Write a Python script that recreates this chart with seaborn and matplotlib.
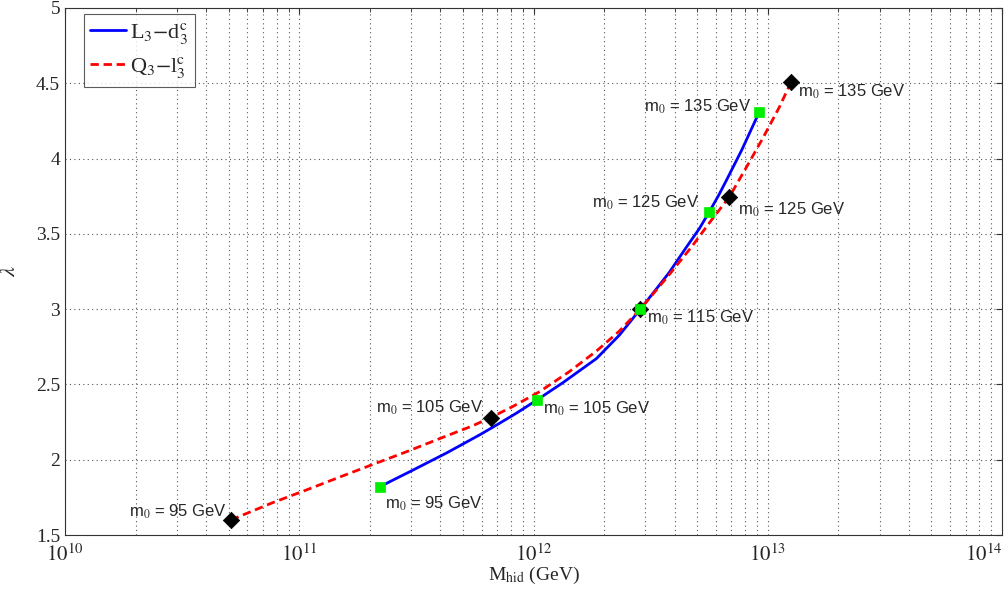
import numpy as np
import pandas as pd
import matplotlib
matplotlib.use("Agg")
import matplotlib.pyplot as plt
import seaborn as sns

# Curve L3-d3^c (blue, solid): log10(M_hid / GeV), lambda
blue_logm = [11.343, 11.484, 11.629, 11.770, 11.842, 11.928, 12.013, 12.124,
             12.269, 12.367, 12.456, 12.525, 12.580, 12.652, 12.708, 12.750,
             12.790, 12.825, 12.890, 12.964]
blue_lam = [1.82, 1.93, 2.045, 2.165, 2.23, 2.31, 2.395, 2.51,
            2.672, 2.828, 3.0, 3.135, 3.245, 3.41, 3.535, 3.645,
            3.755, 3.86, 4.06, 4.31]
# Curve Q3-l3^c (red, dashed)
red_logm = [10.708, 10.887, 11.032, 11.173, 11.313, 11.458, 11.599, 11.740,
            11.817, 11.910, 12.026, 12.153, 12.269, 12.367, 12.456, 12.580,
            12.678, 12.759, 12.836, 12.908, 12.977, 13.049, 13.100]
red_lam = [1.60, 1.715, 1.80, 1.885, 1.968, 2.053, 2.14, 2.225,
           2.28, 2.352, 2.452, 2.585, 2.722, 2.855, 3.0, 3.23,
           3.42, 3.59, 3.745, 3.94, 4.13, 4.34, 4.51]

# Marked points (m0 values)
m0_labels = ["m$_0$ = 95 GeV", "m$_0$ = 105 GeV", "m$_0$ = 115 GeV",
             "m$_0$ = 125 GeV", "m$_0$ = 135 GeV"]
blue_pts_logm = [11.343, 12.013, 12.456, 12.750, 12.964]
blue_pts_lam = [1.82, 2.395, 3.0, 3.645, 4.31]
red_pts_logm = [10.708, 11.817, 12.456, 12.836, 13.100]
red_pts_lam = [1.60, 2.28, 3.0, 3.745, 4.51]

x_ticks = [1e10, 1e11, 1e12, 1e13, 1e14]
y_ticks = [1.5, 2, 2.5, 3, 3.5, 4, 4.5, 5]

sns.set_style("white")
plt.rcParams["mathtext.fontset"] = "stix"

fig = plt.figure(figsize=(10.08, 5.94), dpi=100)
ax = fig.add_axes([65 / 1008, 59 / 594, 937 / 1008, 527 / 594])

df_b = pd.DataFrame({"M": 10 ** np.array(blue_logm), "lam": blue_lam})
df_r = pd.DataFrame({"M": 10 ** np.array(red_logm), "lam": red_lam})

sns.lineplot(data=df_b, x="M", y="lam", ax=ax, color="#0000ff", lw=2.0,
             label=r"L$_3$$-$d$_3^{\rm c}$", sort=False, estimator=None)
sns.lineplot(data=df_r, x="M", y="lam", ax=ax, color="#ff0000", lw=2.0,
             label=r"Q$_3$$-$l$_3^{\rm c}$", sort=False, estimator=None)
ax.lines[1].set_dashes([3, 1.7])
for ln in ax.lines[:2]:
    ln.set_solid_joinstyle("round")
    ln.set_dash_joinstyle("round")

dfbp = pd.DataFrame({"M": 10 ** np.array(blue_pts_logm), "lam": blue_pts_lam})
dfrp = pd.DataFrame({"M": 10 ** np.array(red_pts_logm), "lam": red_pts_lam})
sns.scatterplot(data=dfrp, x="M", y="lam", ax=ax, marker="D", color="black",
                s=70, edgecolor="black", linewidth=0.5, zorder=5, legend=False)
sns.scatterplot(data=dfbp, x="M", y="lam", ax=ax, marker="s", color="#00ee00",
                s=60, edgecolor="#00ee00", linewidth=0.5, zorder=6, legend=False)

ax.set_xscale("log")
ax.set_xlim(1e10, 1e14)
ax.set_ylim(1.5, 5)
ax.set_xticks(x_ticks)
ax.set_yticks(y_ticks)
ax.set_yticklabels([f"{v:g}" for v in y_ticks])
ax.set_xticklabels([r"$10^{%d}$" % int(np.log10(v)) for v in x_ticks])

for lab in ax.get_yticklabels():
    lab.set_family("Liberation Serif")
    lab.set_fontsize(14)
for lab in ax.get_xticklabels():
    lab.set_fontsize(15)
ax.get_xticklabels()[-1].set_horizontalalignment("right")

ax.grid(True, which="major", ls=(0, (1, 3)), color="#555555", lw=0.8)
ax.grid(True, which="minor", axis="x", ls=(0, (1, 3)), color="#555555", lw=0.8)
ax.tick_params(axis="both", which="both", direction="in", length=4,
               top=True, right=True, color="#333333")
ax.tick_params(axis="x", which="minor", length=3)
ax.tick_params(axis="x", pad=6)
for s in ax.spines.values():
    s.set_color("#333333")
    s.set_linewidth(0.8)

ax.set_xlabel(r"M$_{\rm hid}$ (GeV)", fontsize=14, family="Liberation Serif", labelpad=0)
ax.set_ylabel(r"$\lambda$", fontsize=16, labelpad=12)

px = 72 / 100.0
blue_off = [(5, -17, "left"), (6, -9, "left"), (None, None, None), (-10, 9, "right"), (-8, 5, "right")]
red_off = [(-4, 8, "right"), (-7, 10, "right"), (7, -9, "left"), (9, -13, "left"), (7, -10, "left")]
for i in range(5):
    dx, dy, ha = blue_off[i]
    if dx is not None:
        ax.annotate(m0_labels[i], (10 ** blue_pts_logm[i], blue_pts_lam[i]),
                    xytext=(dx * px, dy * px), textcoords="offset points",
                    ha=ha, va="center", fontsize=12, family="Liberation Sans")
    dx, dy, ha = red_off[i]
    ax.annotate(m0_labels[i], (10 ** red_pts_logm[i], red_pts_lam[i]),
                xytext=(dx * px, dy * px), textcoords="offset points",
                ha=ha, va="center", fontsize=12, family="Liberation Sans")

leg = ax.legend(loc="upper left", bbox_to_anchor=(0.02, 0.988), fontsize=16,
                frameon=True, fancybox=False, edgecolor="#333333",
                handlelength=1.6, handletextpad=0.2, borderpad=0.3,
                labelspacing=0.4, borderaxespad=0)
leg.get_frame().set_linewidth(0.8)
for t in leg.get_texts():
    t.set_family("Liberation Serif")

fig.savefig("out.png", dpi=100)
